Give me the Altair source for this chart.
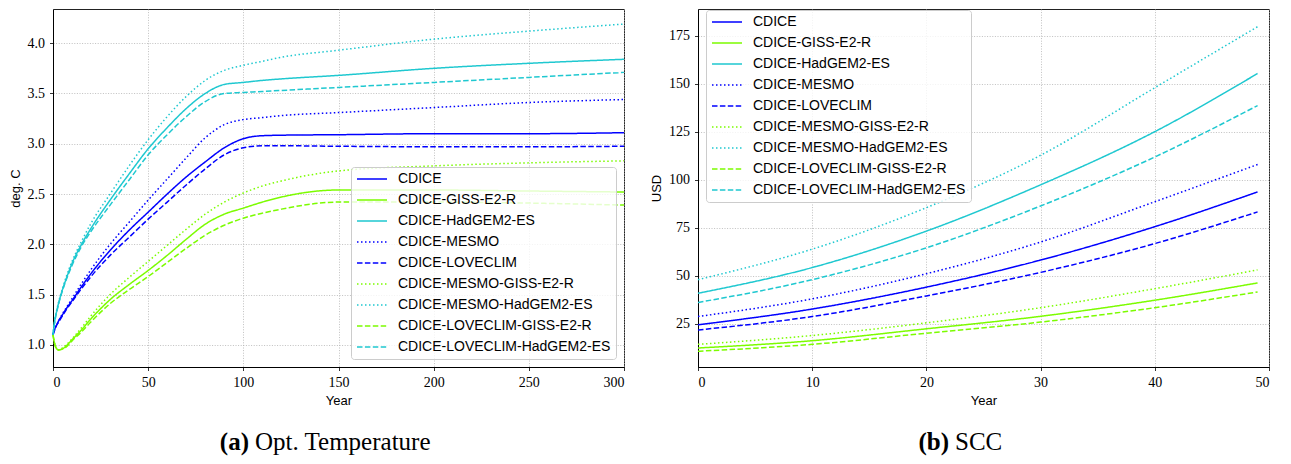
import altair as alt
import pandas as pd

# ---------------- data ----------------
series_names = [
    "CDICE", "CDICE-GISS-E2-R", "CDICE-HadGEM2-ES", "CDICE-MESMO", "CDICE-LOVECLIM",
    "CDICE-MESMO-GISS-E2-R", "CDICE-MESMO-HadGEM2-ES",
    "CDICE-LOVECLIM-GISS-E2-R", "CDICE-LOVECLIM-HadGEM2-ES",
]

# (a) Optimal temperature, deg. C
temp_years = [0, 1, 2, 3, 5, 7, 10, 15, 20, 30, 40, 50, 60, 70, 80, 90, 100, 110, 120, 150, 200, 250, 300]
temp_cdice = [1.10, 1.16, 1.20, 1.24, 1.30, 1.36, 1.44, 1.58, 1.71, 1.94, 2.14, 2.32, 2.50, 2.67, 2.82, 2.96, 3.05, 3.08, 3.085, 3.09, 3.10, 3.10, 3.11]
temp_giss = [1.10, 1.00, 0.96, 0.95, 0.96, 0.99, 1.05, 1.15, 1.26, 1.45, 1.60, 1.74, 1.89, 2.05, 2.20, 2.30, 2.36, 2.42, 2.47, 2.54, 2.54, 2.53, 2.52]
temp_hadgem = [1.10, 1.25, 1.34, 1.42, 1.55, 1.66, 1.81, 2.00, 2.16, 2.44, 2.70, 2.95, 3.16, 3.35, 3.50, 3.59, 3.61, 3.63, 3.645, 3.68, 3.75, 3.80, 3.84]
temp_mesmo = [1.10, 1.16, 1.20, 1.24, 1.31, 1.37, 1.46, 1.61, 1.75, 2.00, 2.22, 2.44, 2.65, 2.86, 3.06, 3.19, 3.24, 3.26, 3.28, 3.31, 3.36, 3.41, 3.44]
temp_loveclim = [1.10, 1.16, 1.20, 1.23, 1.29, 1.35, 1.43, 1.56, 1.68, 1.89, 2.07, 2.25, 2.42, 2.59, 2.75, 2.89, 2.96, 2.98, 2.98, 2.975, 2.97, 2.97, 2.975]
temp_mesmo_giss = [1.10, 1.00, 0.96, 0.95, 0.97, 1.00, 1.06, 1.17, 1.29, 1.50, 1.67, 1.83, 1.99, 2.15, 2.30, 2.42, 2.51, 2.58, 2.63, 2.73, 2.78, 2.81, 2.83]
temp_mesmo_hadgem = [1.10, 1.25, 1.35, 1.43, 1.56, 1.68, 1.83, 2.03, 2.21, 2.50, 2.78, 3.04, 3.27, 3.47, 3.63, 3.73, 3.78, 3.82, 3.86, 3.93, 4.04, 4.12, 4.19]
temp_loveclim_giss = [1.10, 1.00, 0.96, 0.95, 0.96, 0.98, 1.04, 1.13, 1.23, 1.41, 1.55, 1.68, 1.82, 1.96, 2.09, 2.19, 2.26, 2.31, 2.35, 2.42, 2.42, 2.41, 2.39]
temp_loveclim_hadgem = [1.10, 1.24, 1.33, 1.41, 1.54, 1.65, 1.79, 1.98, 2.13, 2.39, 2.64, 2.89, 3.09, 3.27, 3.42, 3.50, 3.51, 3.52, 3.53, 3.56, 3.61, 3.66, 3.71]

# (b) Social cost of carbon, USD
scc_years = [0, 10, 20, 30, 40, 49]
scc_cdice = [24.5, 32.7, 44.1, 58.2, 75.6, 93.7]
scc_giss = [12.4, 16.2, 22.4, 28.9, 37.3, 46.3]
scc_hadgem = [40.9, 54.3, 73.3, 97.4, 125.1, 155.4]
scc_mesmo = [28.8, 38.0, 51.1, 67.6, 88.6, 108.0]
scc_loveclim = [21.8, 28.8, 39.5, 51.8, 66.8, 83.3]
scc_mesmo_giss = [14.3, 18.9, 25.5, 33.4, 43.3, 53.1]
scc_mesmo_hadgem = [48.0, 63.9, 85.5, 112.8, 148.0, 179.8]
scc_loveclim_giss = [10.7, 14.3, 20.1, 25.9, 33.4, 41.6]
scc_loveclim_hadgem = [36.1, 48.0, 64.6, 86.4, 111.9, 138.7]

temp_ticks = [1.0, 1.5, 2.0, 2.5, 3.0, 3.5, 4.0]
temp_year_ticks = [0, 50, 100, 150, 200, 250, 300]
scc_ticks = [25, 50, 75, 100, 125, 150, 175]
scc_year_ticks = [0, 10, 20, 30, 40, 50]

caption_a = ["(a)", "Opt. Temperature"]
caption_b = ["(b)", "SCC"]

# ---------------- styles ----------------
series_colors = ["#0000ff", "#7cfc00", "#1fc8d0", "#0000ff", "#0000ff",
                 "#7cfc00", "#1fc8d0", "#7cfc00", "#1fc8d0"]
SOLID, DOT, DASH = [1, 0], [1.5, 2.5], [5.5, 2.4]
series_dashes = [SOLID, SOLID, SOLID, DOT, DASH, DOT, DOT, DASH, DASH]

temp_series = [temp_cdice, temp_giss, temp_hadgem, temp_mesmo, temp_loveclim,
               temp_mesmo_giss, temp_mesmo_hadgem, temp_loveclim_giss, temp_loveclim_hadgem]
scc_series = [scc_cdice, scc_giss, scc_hadgem, scc_mesmo, scc_loveclim,
              scc_mesmo_giss, scc_mesmo_hadgem, scc_loveclim_giss, scc_loveclim_hadgem]


def long_frame(years, series_list):
    rows = []
    for name, vals in zip(series_names, series_list):
        for yr, v in zip(years, vals):
            rows.append({"Year": yr, "value": v, "series": name})
    return pd.DataFrame(rows)


temp_df = long_frame(temp_years, temp_series)
scc_df = long_frame(scc_years, scc_series)

W, H = 571, 358


def make_legend(lx, ly):
    return alt.Legend(
        title=None, orient="none", legendX=lx, legendY=ly,
        symbolType="stroke", symbolSize=900, symbolStrokeWidth=1.5,
        clipHeight=14, rowPadding=7, labelFont="Liberation Sans",
        labelFontSize=14, labelColor="#000", labelOffset=10, labelLimit=400,
        padding=5, strokeColor="#cccccc", fillColor="rgba(255,255,255,0.8)",
        cornerRadius=3,
    )


def panel(df, xdom, xticks, ydom, yticks, yfmt, ytitle, lx, ly, caption, cap_x):
    leg = make_legend(lx, ly)
    lines = alt.Chart(df).mark_line(strokeWidth=1.5, interpolate="monotone").encode(
        x=alt.X("Year:Q", title="Year",
                scale=alt.Scale(domain=xdom, nice=False, zero=False),
                axis=alt.Axis(values=xticks, format="d")),
        y=alt.Y("value:Q", title=ytitle,
                scale=alt.Scale(domain=ydom, nice=False, zero=False),
                axis=alt.Axis(values=yticks, format=yfmt)),
        color=alt.Color("series:N", sort=series_names,
                        scale=alt.Scale(domain=series_names, range=series_colors),
                        legend=leg),
        strokeDash=alt.StrokeDash("series:N", sort=series_names,
                                  scale=alt.Scale(domain=series_names, range=series_dashes),
                                  legend=leg),
    )
    cap1 = alt.Chart(pd.DataFrame({"t": [caption[0]]})).mark_text(
        font="Liberation Serif", fontSize=25, fontWeight="bold", align="right",
        baseline="alphabetic", color="#000"
    ).encode(text="t:N", x=alt.value(cap_x), y=alt.value(441))
    cap2 = alt.Chart(pd.DataFrame({"t": [caption[1]]})).mark_text(
        font="Liberation Serif", fontSize=25, align="left",
        baseline="alphabetic", color="#000"
    ).encode(text="t:N", x=alt.value(cap_x + 6), y=alt.value(441))
    return alt.layer(lines, cap1, cap2).properties(width=W, height=H)


left = panel(temp_df, [0, 300], temp_year_ticks, [0.78, 4.34], temp_ticks, ".1f",
             "deg. C", 298, 158, caption_a, 196)
right = panel(scc_df, [0, 50], scc_year_ticks, [2.5, 189.0], scc_ticks, "d",
              "USD", 8, 1, caption_b, 251)

chart = alt.hconcat(left, right, spacing=74, bounds="flush").resolve_scale(
    color="independent", strokeDash="independent"
).resolve_legend(
    color="independent", strokeDash="independent"
).properties(
    padding={"left": 0, "top": 0, "right": 0, "bottom": 0}
).configure_axis(
    labelFont="Liberation Serif", labelFontSize=14, labelColor="#000",
    titleFont="Liberation Sans", titleFontSize=13, titleFontWeight="normal",
    titleColor="#000", gridColor="#b0b0b0", gridDash=[1, 1.6], gridWidth=0.8,
    tickColor="#000", tickSize=3.5, tickWidth=0.8, domainColor="#000",
    domainWidth=1, labelPadding=5, titlePadding=5,
).configure_view(stroke="#222", strokeWidth=1)

chart.save("out.html", embed_options={"renderer": "svg", "actions": False})
